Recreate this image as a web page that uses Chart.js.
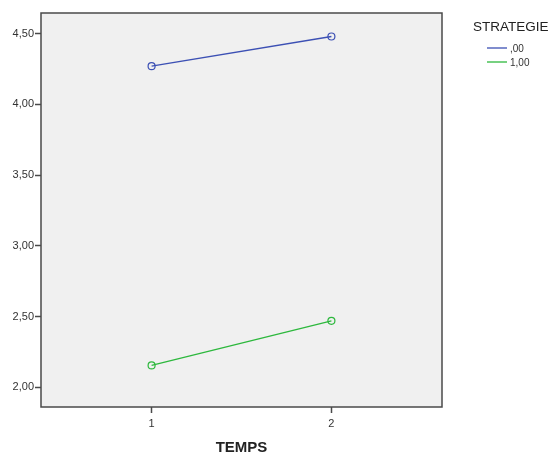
<!DOCTYPE html>
<html>
<head>
<meta charset="utf-8">
<script src="https://cdn.jsdelivr.net/npm/chart.js@4"></script>
<style>
  html, body { margin: 0; padding: 0; background: #fff; }
  #wrap { width: 550px; height: 453px; }
</style>
</head>
<body>
<div id="wrap"><canvas id="c" width="550" height="453"></canvas></div>
<script>
// data
const temps = [1, 2];
const strategies = [',00', '1,00'];
const means0 = [4.27, 4.48];
const means1 = [2.155, 2.47];
const yTicks = [2.0, 2.5, 3.0, 3.5, 4.0, 4.5];
const colors = ['#3c50b4', '#2db83d'];

const fmt = v => v.toFixed(2).replace('.', ',');

// grey plot area with dark frame
const frame = {
    id: 'frame',
    beforeDatasetsDraw(chart) {
        const { ctx, chartArea: a } = chart;
        ctx.save();
        ctx.fillStyle = '#f0f0f0';
        ctx.fillRect(a.left, a.top, a.right - a.left, a.bottom - a.top);
        ctx.restore();
    },
    afterDraw(chart) {
        const { ctx, chartArea: a } = chart;
        ctx.save();
        ctx.strokeStyle = '#4a4a4a';
        ctx.lineWidth = 1.5;
        ctx.strokeRect(a.left, a.top, a.right - a.left, a.bottom - a.top);
        ctx.restore();
    }
};

// legend on the right, SPSS style
const sideLegend = {
    id: 'sideLegend',
    afterDraw(chart) {
        const ctx = chart.ctx;
        ctx.save();
        ctx.fillStyle = '#222';
        ctx.font = '13.5px "Liberation Sans", Arial, sans-serif';
        ctx.textBaseline = 'middle';
        ctx.fillText('STRATEGIE', 473, 27);
        ctx.font = '10px "Liberation Sans", Arial, sans-serif';
        chart.data.datasets.forEach((ds, i) => {
            const y = 48 + i * 14;
            ctx.strokeStyle = ds.borderColor;
            ctx.lineWidth = 1.3;
            ctx.beginPath();
            ctx.moveTo(487, y);
            ctx.lineTo(507, y);
            ctx.stroke();
            ctx.fillStyle = '#333';
            ctx.fillText(ds.label, 510, y + 1);
        });
        ctx.restore();
    }
};

const ctx = document.getElementById('c').getContext('2d');

new Chart(ctx, {
    type: 'line',
    data: {
        datasets: [
            {
                label: strategies[0],
                data: temps.map((t, i) => ({ x: t, y: means0[i] })),
                borderColor: colors[0],
                borderWidth: 1.3,
                pointRadius: 3.5,
                pointBorderWidth: 1.2,
                pointBackgroundColor: 'rgba(0,0,0,0)',
                pointBorderColor: colors[0],
                fill: false
            },
            {
                label: strategies[1],
                data: temps.map((t, i) => ({ x: t, y: means1[i] })),
                borderColor: colors[1],
                borderWidth: 1.3,
                pointRadius: 3.5,
                pointBorderWidth: 1.2,
                pointBackgroundColor: 'rgba(0,0,0,0)',
                pointBorderColor: colors[1],
                fill: false
            }
        ]
    },
    options: {
        responsive: false,
        animation: false,
        layout: { padding: { left: 0, right: 108, top: 13, bottom: 0 } },
        plugins: {
            legend: { display: false },
            tooltip: { enabled: false }
        },
        scales: {
            x: {
                type: 'linear',
                position: 'bottom',
                min: 0.385,
                max: 2.615,
                afterBuildTicks: s => { s.ticks = temps.map(v => ({ value: v })); },
                afterFit: s => { s.height = 46; },
                border: { display: false },
                grid: {
                    drawOnChartArea: false,
                    drawTicks: true,
                    tickLength: 6,
                    tickWidth: 1.5,
                    tickColor: '#4a4a4a'
                },
                ticks: {
                    padding: 4,
                    color: '#333',
                    font: { family: '"Liberation Sans", Arial, sans-serif', size: 11 },
                    callback: v => String(v)
                },
                title: {
                    display: true,
                    text: 'TEMPS',
                    color: '#222',
                    padding: { top: 0, bottom: -4 },
                    font: { family: '"Liberation Sans", Arial, sans-serif', size: 15, weight: 'bold' }
                }
            },
            y: {
                type: 'linear',
                min: 1.861,
                max: 4.646,
                afterBuildTicks: s => { s.ticks = yTicks.map(v => ({ value: v })); },
                afterFit: s => { s.width = 41; },
                border: { display: false },
                grid: {
                    drawOnChartArea: false,
                    drawTicks: true,
                    tickLength: 6,
                    tickWidth: 1.5,
                    tickColor: '#4a4a4a'
                },
                ticks: {
                    padding: 1,
                    color: '#333',
                    font: { family: '"Liberation Sans", Arial, sans-serif', size: 11 },
                    callback: v => fmt(v)
                }
            }
        }
    },
    plugins: [frame, sideLegend]
});
</script>
</body>
</html>
